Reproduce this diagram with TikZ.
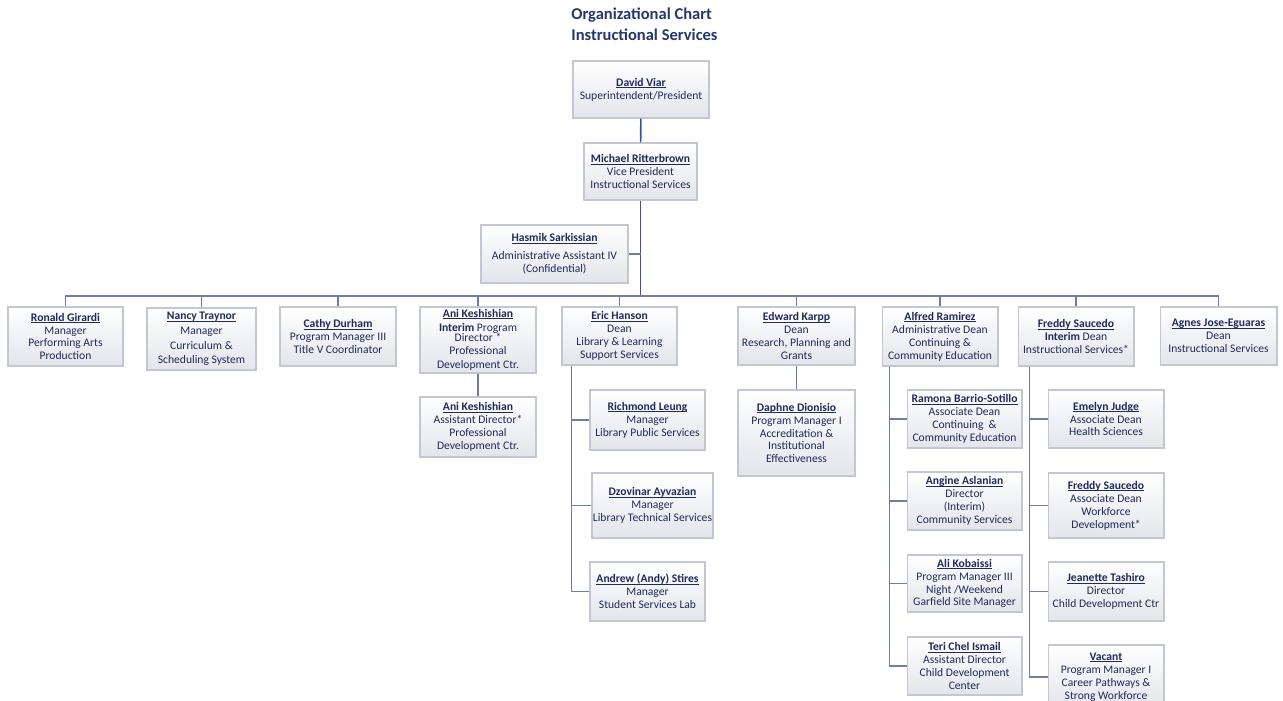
\documentclass[tikz,border=0pt]{standalone}
\usepackage{fontspec}
\setmainfont{Carlito}
\usetikzlibrary{shadows}

\definecolor{ink}{HTML}{1F2B5A}
\definecolor{titleink}{HTML}{24366E}
\definecolor{boxline}{HTML}{C3C7D3}
\definecolor{boxfill}{HTML}{E3E5EB}
\definecolor{mainline}{HTML}{3E4E9C}
\definecolor{subline}{HTML}{6F7BA8}

% bold name with a close underline
\newcommand\who[1]{{\bfseries\setbox0=\hbox{#1}\rlap{\rule[-0.9pt]{\wd0}{0.35pt}}\box0}}
\newcommand\boxfont{\fontsize{6.6}{7.35}\selectfont}

\tikzset{
  box/.style={draw=boxline, line width=0.6pt, top color=white, bottom color=boxfill,
    text=ink, align=center, inner sep=0pt, font=\boxfont,
    drop shadow={shadow xshift=0.6pt, shadow yshift=-0.6pt, fill=black!12}},
  trunk/.style={draw=mainline, line width=0.9pt},
  link/.style={draw=subline, line width=0.6pt}
}

\begin{document}
\begin{tikzpicture}[x=0.02cm, y=-0.02cm]
    \useasboundingbox (0,0) rectangle (1283,700);

    % Title
    \node[anchor=north west, align=left, text=titleink, inner sep=0pt,
          font=\fontsize{9.4}{11.9}\selectfont\bfseries] (title) at (571,8)
        {Organizational Chart\\Instructional Services};

    % Top of the chart
    \node[box, minimum width=2.72cm, minimum height=1.14cm] (viar) at (641,89.5)
        {\who{David Viar}\\Superintendent/President};
    \node[box, minimum width=2.26cm, minimum height=1.14cm] (ritterbrown) at (640.5,171.5)
        {\who{Michael Ritterbrown}\\Vice President\\Instructional Services};
    \node[box, minimum width=2.94cm, minimum height=1.16cm] (sarkissian) at (554.5,254)
        {\who{Hasmik Sarkissian}\\[3pt]Administrative Assistant IV\\(Confidential)};
    \coordinate (bar) at (640.5,296);

    % Direct reports (left to right)
    \node[box, minimum width=2.30cm, minimum height=1.18cm] (girardi) at (65.5,336.5)
        {\who{Ronald Girardi}\\Manager\\Performing Arts\\Production};
    \node[box, minimum width=2.18cm, minimum height=1.24cm] (traynor) at (201.5,339)
        {\who{Nancy Traynor}\\[1pt]Manager\\[1pt]Curriculum \&\\[1pt]Scheduling System};
    \node[box, minimum width=2.32cm, minimum height=1.18cm] (durham) at (338,336.5)
        {\who{Cathy Durham}\\Program Manager III\\Title V Coordinator};
    \node[box, minimum width=2.32cm, minimum height=1.32cm] (keshishian) at (478,340)
        {\who{Ani Keshishian}\\[1pt]\textbf{Interim} Program\\[-2pt]Director *\\Professional\\[1pt]Development Ctr.};
    \node[box, minimum width=2.30cm, minimum height=1.16cm] (hanson) at (619.5,336)
        {\who{Eric Hanson}\\Dean\\Library \& Learning\\Support Services};
    \node[box, minimum width=2.34cm, minimum height=1.16cm] (karpp) at (796.5,336)
        {\who{Edward Karpp}\\Dean\\Research, Planning and\\Grants};
    \node[box, minimum width=2.32cm, minimum height=1.18cm] (ramirez) at (940,336.5)
        {\who{Alfred Ramirez}\\Administrative Dean\\Continuing \&\\Community Education};
    \node[box, minimum width=2.32cm, minimum height=1.18cm] (saucedo) at (1076,336.5)
        {\who{Freddy Saucedo}\\\textbf{Interim} Dean\\Instructional Services*};
    \node[box, minimum width=2.34cm, minimum height=1.16cm] (jose) at (1218.5,336)
        {\who{Agnes Jose-Eguaras}\\Dean\\Instructional Services};

    % Second level
    \node[box, minimum width=2.32cm, minimum height=1.20cm] (keshishiantwo) at (478,427)
        {\who{Ani Keshishian}\\Assistant Director*\\Professional\\Development Ctr.};

    \node[box, minimum width=2.30cm, minimum height=1.20cm] (leung) at (647.5,420)
        {\who{Richmond Leung}\\Manager\\Library Public Services};
    \node[box, minimum width=2.42cm, minimum height=1.30cm] (ayvazian) at (652.5,505.5)
        {\who{Dzovinar Ayvazian}\\Manager\\Library Technical Services};
    \node[box, minimum width=2.30cm, minimum height=1.18cm] (stires) at (647.5,591.5)
        {\who{Andrew (Andy) Stires}\\Manager\\Student Services Lab};

    \node[box, minimum width=2.34cm, minimum height=1.72cm] (dionisio) at (796.5,433)
        {\who{Daphne Dionisio}\\Program Manager I\\Accreditation \&\\Institutional\\Effectiveness};

    \node[box, minimum width=2.30cm, minimum height=1.16cm] (barrio) at (964.5,419)
        {\who{Ramona Barrio-Sotillo}\\Associate Dean\\Continuing~~\&\\Community Education};
    \node[box, minimum width=2.30cm, minimum height=1.16cm] (aslanian) at (964.5,501)
        {\who{Angine Aslanian}\\Director\\(Interim)\\Community Services};
    \node[box, minimum width=2.30cm, minimum height=1.14cm] (kobaissi) at (964.5,583.5)
        {\who{Ali Kobaissi}\\Program Manager III\\Night /Weekend\\Garfield Site Manager};
    \node[box, minimum width=2.30cm, minimum height=1.16cm] (ismail) at (964.5,666)
        {\who{Teri Chel Ismail}\\Assistant Director\\Child Development\\Center};

    \node[box, minimum width=2.32cm, minimum height=1.16cm] (judge) at (1106,419)
        {\who{Emelyn Judge}\\Associate Dean\\Health Sciences};
    \node[box, minimum width=2.32cm, minimum height=1.30cm] (saucedotwo) at (1106,505.5)
        {\who{Freddy Saucedo}\\Associate Dean\\Workforce\\Development*};
    \node[box, minimum width=2.32cm, minimum height=1.18cm] (tashiro) at (1106,591.5)
        {\who{Jeanette Tashiro}\\Director\\Child Development Ctr};
    \node[box, minimum width=2.32cm, minimum height=1.28cm] (vacant) at (1106,677)
        {\who{Vacant}\\Program Manager I\\Career Pathways \&\\Strong Workforce};

    % Connectors
    \draw[trunk] (viar) -- (ritterbrown);
    \draw[trunk] (ritterbrown) -- (bar);
    \draw[link] (sarkissian.east) -- (sarkissian.east -| bar);
    \foreach \n in {girardi,traynor,durham,keshishian,hanson,karpp,ramirez,saucedo,jose}
        \draw[link] (\n.north) |- (bar);

    \draw[link] (keshishian) -- (keshishiantwo);
    \draw[link] (karpp) -- (dionisio);

    \coordinate (hansonbus) at ([xshift=0.2cm]hanson.south west);
    \foreach \c in {leung,ayvazian,stires}
        \draw[link] (\c.west) -| (hansonbus);

    \coordinate (ramirezbus) at ([xshift=0.16cm]ramirez.south west);
    \foreach \c in {barrio,aslanian,kobaissi,ismail}
        \draw[link] (\c.west) -| (ramirezbus);

    \coordinate (saucedobus) at ([xshift=0.24cm]saucedo.south west);
    \foreach \c in {judge,saucedotwo,tashiro,vacant}
        \draw[link] (\c.west) -| (saucedobus);
\end{tikzpicture}
\end{document}
